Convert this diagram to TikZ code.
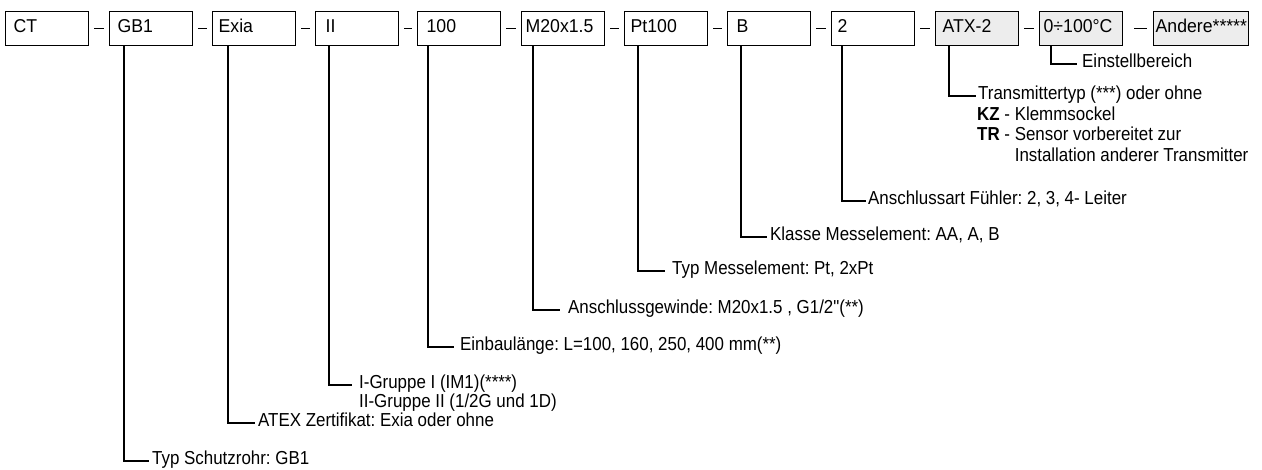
\documentclass[tikz,border=0pt]{standalone}
\usepackage{fontspec}
\setmainfont{Liberation Sans}
\newfontfamily\boxfont[FakeStretch=0.95]{Liberation Sans}
\newfontfamily\lblfont[FakeStretch=0.9]{Liberation Sans}
\definecolor{boxgray}{HTML}{EDEDED}
\frenchspacing
\begin{document}
\begin{tikzpicture}[x=1pt,y=-1pt,
  box/.style={draw, line width=1.3pt, anchor=north west, minimum height=34pt,
    inner ysep=0pt, inner xsep=8pt, text width=67pt, align=left,
    text height=0.72em, text depth=0pt, font=\boxfont\fontsize{18.6}{22}\selectfont},
  wide/.style={inner xsep=4pt, text width=75pt},
  shade/.style={fill=boxgray},
  lbl/.style={anchor=west, inner xsep=#1, inner ysep=0pt, text height=0.72em,
    text depth=0pt, font=\lblfont\fontsize{18.8}{22}\selectfont},
  lbl/.default=2pt,
  conn/.style={line width=1.5pt},
  dashc/.style={line width=1.5pt, shorten <=5pt, shorten >=5pt}
]
\useasboundingbox (0,0) rectangle (1262,470);

% boxes
\node[box] (ct)   at (5,11)   {CT};
\node[box] (gb1)  at (109,11) {GB1};
\node[box,inner xsep=6pt,text width=71pt] (exia) at (212,11) {Exia};
\node[box,inner xsep=10pt,text width=63pt] (ii)   at (315,11) {II};
\node[box,inner xsep=9pt,text width=65pt] (len)  at (417,11) {100};
\node[box,wide] (thr)  at (521,11) {M20x1.5};
\node[box,inner xsep=6pt,text width=71pt] (pt)   at (624,11) {Pt100};
\node[box,inner xsep=9pt,text width=65pt] (cls)  at (727,11) {B};
\node[box,inner xsep=6pt,text width=71pt] (wire) at (831,11) {2};
\node[box,shade,inner xsep=7pt,text width=69pt] (atx)  at (935,11) {ATX-2};
\node[box,shade,wide] (rng)  at (1039,11) {0÷100°C};
\node[box,shade,inner xsep=2pt,text width=91pt] (and)  at (1153,11) {Andere*****};

% dashes
\draw[dashc] (ct) -- (gb1);
\draw[dashc] (gb1) -- (exia);
\draw[dashc] (exia) -- (ii);
\draw[dashc] (ii) -- (len);
\draw[dashc] (len) -- (thr);
\draw[dashc] (thr) -- (pt);
\draw[dashc] (pt) -- (cls);
\draw[dashc] (cls) -- (wire);
\draw[dashc] (wire) -- (atx);
\draw[dashc] (atx) -- (rng);
\draw[line width=1.5pt, shorten <=11pt, shorten >=6pt] (rng) -- (and);

% labels
\node[lbl=5pt] (lrng) at (1077,64) {Einstellbereich};
\node[lbl=2pt] (latx) at (976,96) {Transmittertyp (***) oder ohne};
\node[lbl=1pt] (lkz)  at (976,117) {\textbf{KZ} - Klemmsockel};
\node[lbl=1pt] (ltr)  at (976,137) {\textbf{TR} - Sensor vorbereitet zur};
\node[lbl=1pt] (linst) at (976,158) {\phantom{\textbf{TR} - }Installation anderer Transmitter};
\node[lbl=2pt] (lwire) at (866,201) {Anschlussart Fühler: 2, 3, 4- Leiter};
\node[lbl=3pt] (lcls) at (767,237) {Klasse Messelement: AA, A, B};
\node[lbl=7pt] (lpt)  at (665,271) {Typ Messelement: Pt, 2xPt};
\node[lbl=8pt] (lthr) at (560,310) {Anschlussgewinde: M20x1.5 , G1/2"(**)};
\node[lbl=6pt] (llen) at (454,347) {Einbaulänge: L=100, 160, 250, 400 mm(**)};
\node[lbl=7pt] (lii)  at (352,385) {I-Gruppe I (IM1)(****)};
\node[lbl=7pt] (lii2) at (352,404) {II-Gruppe II (1/2G und 1D)};
\node[lbl=3pt] (lexia) at (255,423) {ATEX Zertifikat: Exia oder ohne};
\node[lbl=3pt] (lgb1) at (149,461) {Typ Schutzrohr: GB1};

% connectors
\draw[conn] ([xshift=15pt]gb1.south west) |- (lgb1.west);
\draw[conn] ([xshift=16pt]exia.south west) |- (lexia.west);
\draw[conn] ([xshift=14pt]ii.south west) |- (lii.west);
\draw[conn] ([xshift=11pt]len.south west) |- (llen.west);
\draw[conn] ([xshift=12pt]thr.south west) |- (lthr.west);
\draw[conn] ([xshift=14pt]pt.south west) |- (lpt.west);
\draw[conn] ([xshift=14pt]cls.south west) |- (lcls.west);
\draw[conn] ([xshift=11pt]wire.south west) |- (lwire.west);
\draw[conn] ([xshift=14pt]atx.south west) |- (latx.west);
\draw[conn] ([xshift=12pt]rng.south west) |- (lrng.west);
\end{tikzpicture}
\end{document}
